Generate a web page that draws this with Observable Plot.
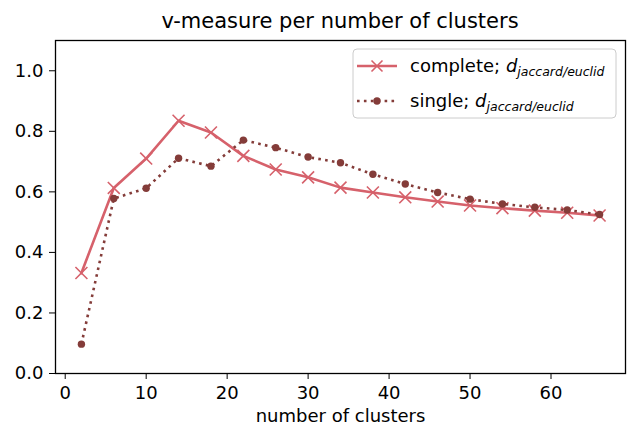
<!DOCTYPE html>
<html><head><meta charset="utf-8">
<script src="https://cdn.jsdelivr.net/npm/d3@7"></script>
<script src="https://cdn.jsdelivr.net/npm/@observablehq/plot@0.6"></script>
<style>
body{margin:0;background:#fff;font-family:"DejaVu Sans",sans-serif;}
#title{position:relative;width:635px;height:39px;}
#title span{position:absolute;left:55px;width:570px;text-align:center;top:9px;font-size:21px;color:#000;white-space:nowrap;}
#chart{width:635px;height:391px;}
</style></head><body>
<div id="title"><span>v-measure per number of clusters</span></div>
<div id="chart"></div>
<script>
const clusters = [2, 6, 10, 14, 18, 22, 26, 30, 34, 38, 42, 46, 50, 54, 58, 62, 66];
const completeVals = [0.332, 0.613, 0.710, 0.835, 0.796, 0.719, 0.674, 0.648, 0.614, 0.598, 0.582, 0.568, 0.555, 0.546, 0.538, 0.531, 0.522];
const singleVals = [0.097, 0.578, 0.612, 0.711, 0.685, 0.771, 0.746, 0.715, 0.696, 0.658, 0.626, 0.598, 0.576, 0.560, 0.549, 0.540, 0.525];
const seriesLabels = ["complete; ", "single; "];
const distLabel = "jaccard/euclid";
const xTicks = [0, 10, 20, 30, 40, 50, 60];
const yTicks = [0, 0.2, 0.4, 0.6, 0.8, 1.0];
const xLabel = "number of clusters";

const completeColor = "#d6616b";
const singleColor = "#843c39";

const complete = clusters.map((c, i) => ({x: c, y: completeVals[i]}));
const single = clusters.map((c, i) => ({x: c, y: singleVals[i]}));

const FS = 18;
const plot = Plot.plot({
  width: 635, height: 391,
  marginTop: 1, marginBottom: 57, marginLeft: 55, marginRight: 10,
  style: {fontFamily: "DejaVu Sans", fontSize: FS + "px", color: "#000", background: "#fff"},
  x: {domain: [-1.2, 69.2]},
  y: {domain: [0, 1.1]},
  marks: [
    Plot.line(complete, {x: "x", y: "y", stroke: completeColor, strokeWidth: 2.6, strokeLinecap: "square", strokeLinejoin: "round"}),
    Plot.dot(complete, {x: "x", y: "y", symbol: "times", stroke: completeColor, r: 5.5, strokeWidth: 1.6}),
    Plot.line(single, {x: "x", y: "y", stroke: singleColor, strokeWidth: 2.6, strokeDasharray: "2.6,4.3", strokeLinecap: "butt", strokeLinejoin: "round"}),
    Plot.dot(single, {x: "x", y: "y", fill: singleColor, stroke: "none", r: 3.7}),
    Plot.frame({stroke: "#000", strokeWidth: 1.3}),
    Plot.axisX({ticks: xTicks, tickSize: 6, tickPadding: 7, label: null, fontSize: FS, tickFormat: d => String(d)}),
    Plot.axisY({ticks: yTicks, tickSize: 6, tickPadding: 6, label: null, fontSize: FS, tickFormat: d => d.toFixed(1)}),
    Plot.text([xLabel], {frameAnchor: "bottom", dy: 48, text: d => d, fontSize: FS})
  ]
});
document.getElementById("chart").appendChild(plot);

// legend (inside plot, upper right)
const svg = d3.select(plot);
const lg = svg.append("g").attr("font-family", "DejaVu Sans").attr("font-size", FS).attr("text-anchor", "start");
lg.append("rect").attr("x", 353).attr("y", 10).attr("width", 263).attr("height", 69)
  .attr("rx", 4).attr("fill", "#fff").attr("fill-opacity", 0.8).attr("stroke", "#cccccc").attr("stroke-width", 1);
const rows = [
  {y: 27, base: 33, label: seriesLabels[0], color: completeColor, kind: "complete"},
  {y: 62, base: 68, label: seriesLabels[1], color: singleColor, kind: "single"}
];
rows.forEach(r => {
  const line = lg.append("line").attr("x1", 357).attr("x2", 397).attr("y1", r.y).attr("y2", r.y)
    .attr("stroke", r.color).attr("stroke-width", 2.6);
  if (r.kind === "single") {
    line.attr("stroke-dasharray", "2.6,4.3");
    lg.append("circle").attr("cx", 377).attr("cy", r.y).attr("r", 3.7).attr("fill", r.color);
  } else {
    const s = 5.5;
    lg.append("path").attr("d", `M${377 - s},${r.y - s}L${377 + s},${r.y + s}M${377 - s},${r.y + s}L${377 + s},${r.y - s}`)
      .attr("stroke", r.color).attr("stroke-width", 1.6).attr("fill", "none");
  }
  const t = lg.append("text").attr("x", 410).attr("y", r.base).attr("fill", "#000");
  t.append("tspan").text(r.label);
  t.append("tspan").attr("font-style", "italic").text("d");
  t.append("tspan").attr("font-style", "italic").attr("font-size", 12.5).attr("dy", 4).text(distLabel);
});
</script>
</body></html>
